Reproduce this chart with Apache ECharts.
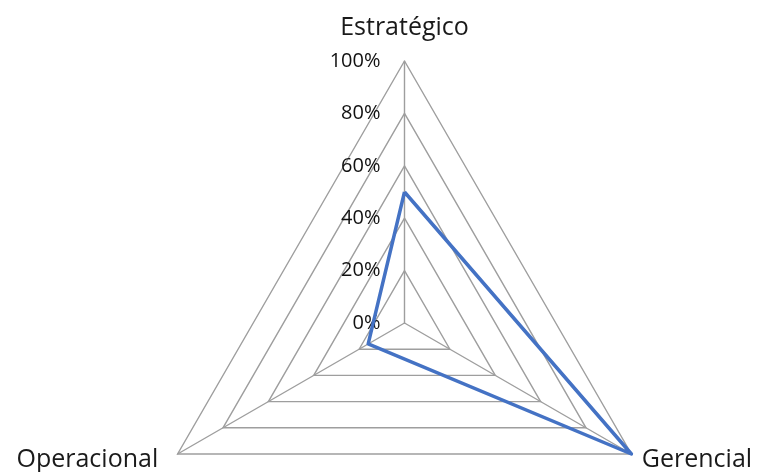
<!DOCTYPE html>
<html>
<head>
<meta charset="utf-8">
<script src="https://cdn.jsdelivr.net/npm/echarts@6/dist/echarts.min.js"></script>
<style>
  html, body { margin: 0; padding: 0; background: #fff; }
  #chart { width: 759px; height: 472px; }
</style>
</head>
<body>
<div id="chart"></div>
<script>
// ejes del radar y valores (orden horario: ECharts dibuja en sentido antihorario)
var categories = ['Estratégico', 'Operacional', 'Gerencial'];
var values = [50, 16, 100];
var tickLabels = ['0%', '20%', '40%', '60%', '80%', '100%'];

var myChart = echarts.init(document.getElementById('chart'));
var cx = 404.5, cy = 323, r = 262;
var nameFont = { fontFamily: 'Open Sans', fontSize: 25, color: '#1a1a1a' };

myChart.setOption({
  animation: false,
  // eje vertical invisible solo para las etiquetas de porcentaje
  grid: { left: cx, top: cy - r, width: 1, height: r },
  xAxis: { type: 'value', show: false },
  yAxis: {
    type: 'value', min: 0, max: 100, interval: 20,
    axisLine: { show: false }, axisTick: { show: false }, splitLine: { show: false },
    axisLabel: {
      margin: 24, fontFamily: 'Open Sans', fontSize: 20, color: '#111',
      formatter: function (v) { return tickLabels[v / 20]; }
    }
  },
  radar: {
    center: [cx, cy],
    radius: r,
    startAngle: 90,
    shape: 'polygon',
    splitNumber: 5,
    indicator: categories.map(function (c) { return { name: c, min: 0, max: 100 }; }),
    axisName: {
      fontFamily: 'Open Sans', fontSize: 25, color: '#1a1a1a',
      verticalAlign: 'middle',
      formatter: function (name) {
        if (name === categories[0]) return '{top|' + name + '}';
        if (name === categories[1]) return '{left|' + name + '}';
        return '{right|' + name + '}';
      },
      rich: {
        top: Object.assign({ padding: [0, 0, 42, 0] }, nameFont),
        left: Object.assign({ padding: [0, 9, 0, 0] }, nameFont),
        right: Object.assign({ padding: [0, 0, 0, 0] }, nameFont)
      }
    },
    nameGap: 12,
    splitArea: { show: false },
    splitLine: { lineStyle: { color: '#9e9e9e', width: 1.4 } },
    axisLine: { lineStyle: { color: '#9e9e9e', width: 1.4 } },
    axisTick: { show: false },
    axisLabel: { show: false }
  },
  series: [{
    type: 'radar',
    symbol: 'none',
    lineStyle: { color: '#4472c4', width: 3.5 },
    data: [{ value: values }]
  }]
});
</script>
</body>
</html>
